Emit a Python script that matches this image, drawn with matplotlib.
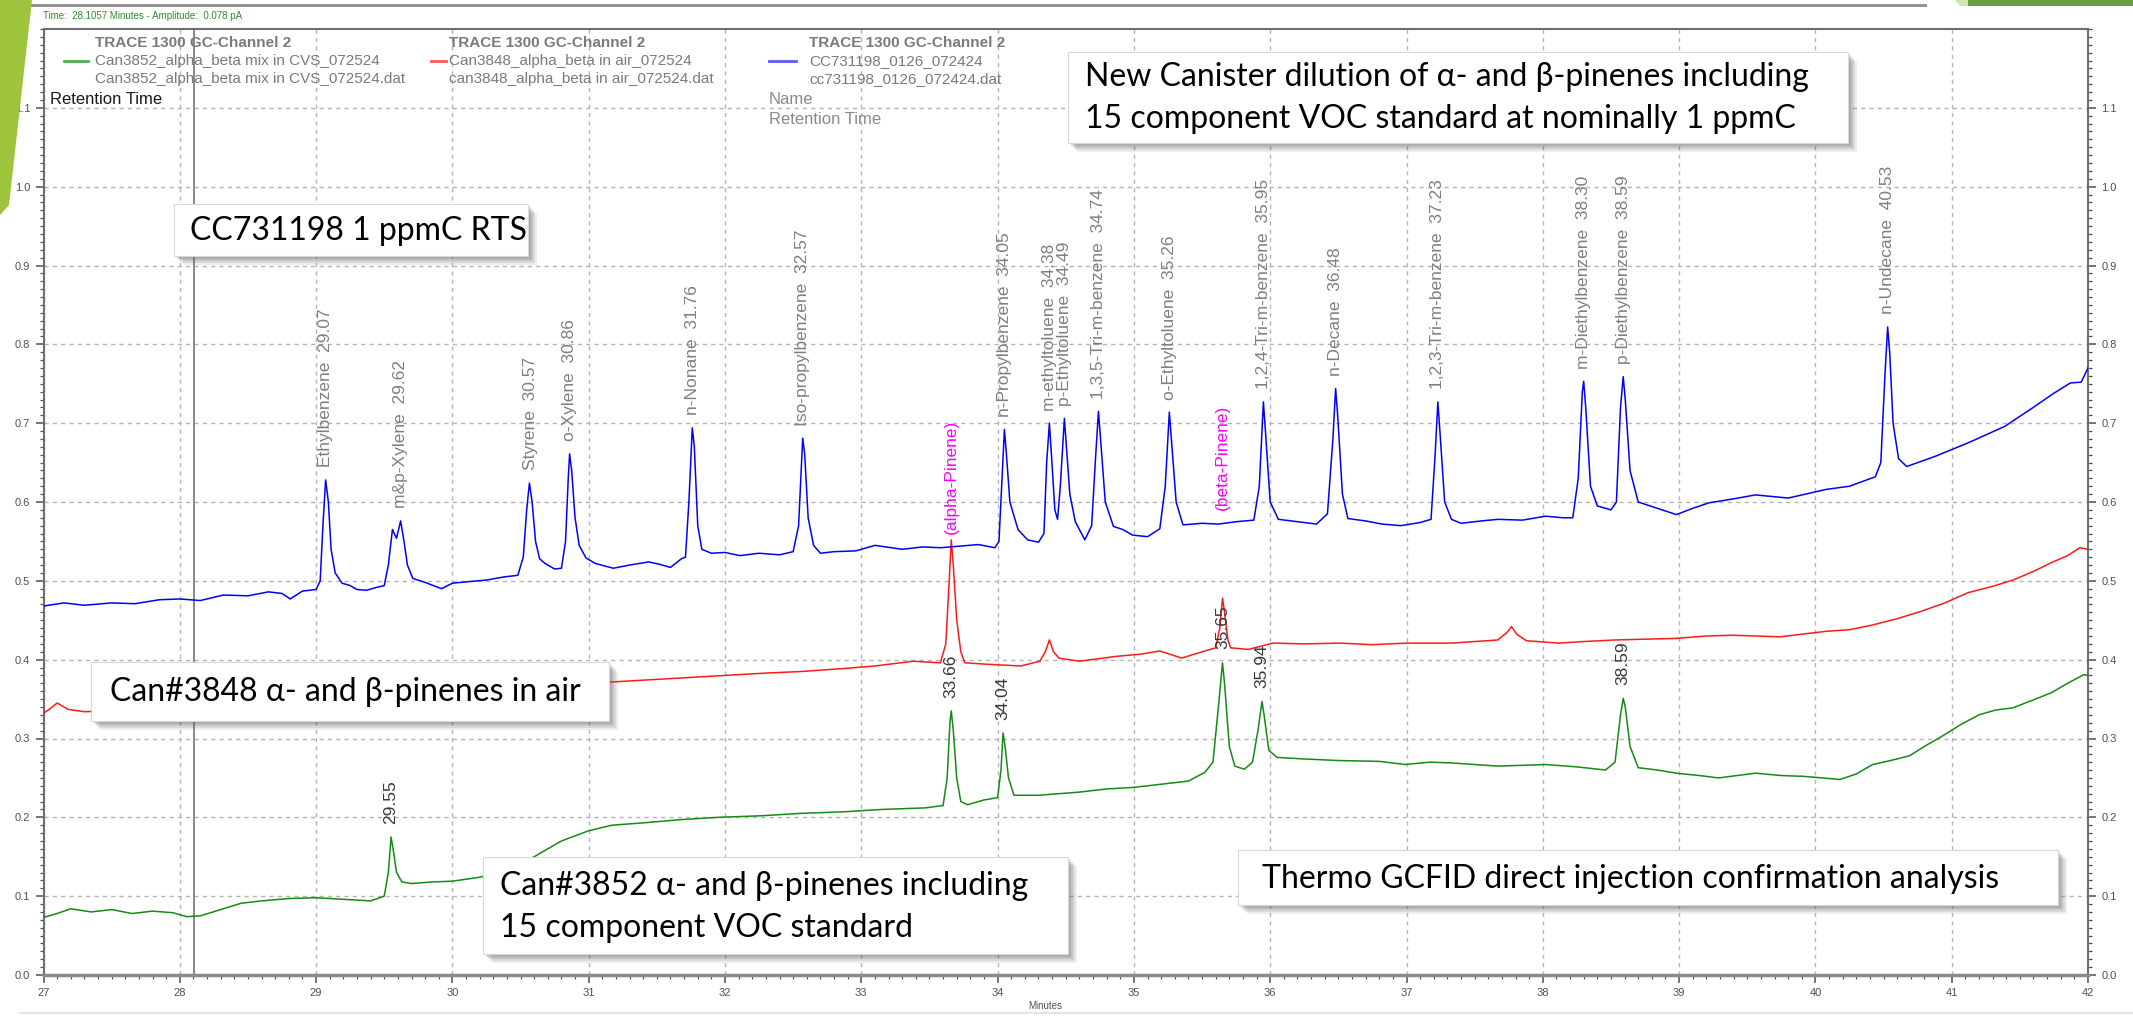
"""GC-FID chromatogram overlay (TRACE 1300, channel 2) redrawn as a slide figure."""

import matplotlib
matplotlib.use("Agg")
import matplotlib.pyplot as plt
from matplotlib import font_manager as fm
from matplotlib.patches import Rectangle, Polygon
from matplotlib.ticker import MultipleLocator, FixedLocator, FormatStrFormatter

W, H = 2133, 1017

# ---- traces: (minutes, pA) ----
blue_trace = [
    (27.00, 0.468), (27.15, 0.472), (27.30, 0.469), (27.50, 0.472), (27.67, 0.471),
    (27.85, 0.476), (28.00, 0.477), (28.15, 0.475), (28.32, 0.482), (28.50, 0.481),
    (28.65, 0.486), (28.75, 0.484), (28.81, 0.477), (28.90, 0.487), (29.00, 0.489),
    (29.03, 0.500), (29.05, 0.570), (29.07, 0.628), (29.09, 0.600), (29.11, 0.540),
    (29.14, 0.510), (29.19, 0.497), (29.25, 0.494), (29.30, 0.489), (29.37, 0.488),
    (29.45, 0.492), (29.50, 0.494), (29.53, 0.520), (29.56, 0.565), (29.59, 0.554),
    (29.62, 0.576), (29.645, 0.550), (29.67, 0.520), (29.71, 0.503), (29.80, 0.498),
    (29.92, 0.490), (30.00, 0.497), (30.12, 0.499), (30.25, 0.501), (30.38, 0.505),
    (30.48, 0.507), (30.52, 0.530), (30.545, 0.590), (30.565, 0.624), (30.585, 0.600),
    (30.61, 0.550), (30.64, 0.528), (30.68, 0.522), (30.75, 0.515), (30.80, 0.516),
    (30.83, 0.550), (30.85, 0.630), (30.86, 0.661), (30.875, 0.640), (30.90, 0.580),
    (30.93, 0.545), (30.98, 0.529), (31.05, 0.522), (31.18, 0.516), (31.30, 0.520),
    (31.44, 0.524), (31.52, 0.521), (31.60, 0.517), (31.68, 0.528), (31.71, 0.530),
    (31.735, 0.600), (31.76, 0.694), (31.775, 0.670), (31.80, 0.570), (31.83, 0.540),
    (31.90, 0.535), (32.00, 0.536), (32.11, 0.532), (32.25, 0.535), (32.40, 0.533),
    (32.50, 0.537), (32.54, 0.570), (32.57, 0.681), (32.585, 0.660), (32.61, 0.580),
    (32.65, 0.545), (32.70, 0.535), (32.80, 0.537), (32.96, 0.538), (33.10, 0.545),
    (33.30, 0.540), (33.45, 0.543), (33.58, 0.542), (33.72, 0.544), (33.86, 0.546),
    (33.98, 0.542), (34.01, 0.550), (34.03, 0.620), (34.05, 0.692), (34.065, 0.660),
    (34.09, 0.600), (34.15, 0.565), (34.22, 0.552), (34.30, 0.549), (34.34, 0.560),
    (34.36, 0.650), (34.38, 0.700), (34.395, 0.660), (34.42, 0.590), (34.44, 0.578),
    (34.46, 0.620), (34.49, 0.706), (34.505, 0.670), (34.53, 0.610), (34.57, 0.575),
    (34.64, 0.552), (34.69, 0.570), (34.72, 0.660), (34.74, 0.715), (34.755, 0.680),
    (34.79, 0.600), (34.85, 0.569), (34.92, 0.565), (34.99, 0.558), (35.10, 0.556),
    (35.19, 0.566), (35.23, 0.620), (35.26, 0.714), (35.275, 0.680), (35.31, 0.600),
    (35.36, 0.571), (35.50, 0.573), (35.62, 0.572), (35.75, 0.575), (35.88, 0.577),
    (35.92, 0.620), (35.95, 0.727), (35.965, 0.690), (36.00, 0.600), (36.06, 0.578),
    (36.20, 0.575), (36.34, 0.572), (36.42, 0.585), (36.46, 0.680), (36.48, 0.744),
    (36.495, 0.710), (36.53, 0.610), (36.57, 0.579), (36.70, 0.576), (36.82, 0.572),
    (36.96, 0.570), (37.10, 0.574), (37.18, 0.578), (37.21, 0.660), (37.23, 0.727),
    (37.245, 0.690), (37.28, 0.600), (37.33, 0.578), (37.40, 0.573), (37.55, 0.576),
    (37.67, 0.578), (37.85, 0.577), (38.02, 0.582), (38.15, 0.580), (38.22, 0.580),
    (38.26, 0.630), (38.29, 0.740), (38.30, 0.753), (38.315, 0.720), (38.35, 0.620),
    (38.40, 0.595), (38.50, 0.590), (38.54, 0.600), (38.57, 0.720), (38.59, 0.759),
    (38.605, 0.730), (38.64, 0.640), (38.70, 0.600), (38.84, 0.592), (38.98, 0.584),
    (39.10, 0.592), (39.22, 0.599), (39.40, 0.604), (39.56, 0.609), (39.80, 0.605),
    (40.08, 0.616), (40.25, 0.620), (40.44, 0.632), (40.48, 0.650), (40.51, 0.760),
    (40.53, 0.822), (40.545, 0.790), (40.57, 0.700), (40.61, 0.655), (40.67, 0.645),
    (40.88, 0.658), (41.12, 0.675), (41.39, 0.696), (41.59, 0.719), (41.75, 0.738),
    (41.87, 0.751), (41.95, 0.752), (42.00, 0.770),
]

red_trace = [
    (27.00, 0.332), (27.05, 0.338), (27.10, 0.345), (27.18, 0.337), (27.30, 0.334),
    (27.50, 0.335), (28.00, 0.340), (28.50, 0.348), (29.00, 0.352), (29.50, 0.356),
    (30.00, 0.360), (30.50, 0.365), (31.00, 0.370), (31.20, 0.372), (31.50, 0.375),
    (31.80, 0.378), (32.10, 0.381), (32.30, 0.383), (32.56, 0.385), (32.89, 0.389),
    (33.10, 0.392), (33.38, 0.398), (33.58, 0.396), (33.62, 0.420), (33.645, 0.500),
    (33.66, 0.552), (33.675, 0.520), (33.70, 0.450), (33.73, 0.410), (33.76, 0.396),
    (33.94, 0.394), (34.17, 0.392), (34.31, 0.398), (34.35, 0.410), (34.38, 0.425),
    (34.41, 0.410), (34.45, 0.402), (34.60, 0.398), (34.86, 0.404), (35.05, 0.407),
    (35.19, 0.411), (35.35, 0.402), (35.52, 0.411), (35.60, 0.415), (35.63, 0.440),
    (35.65, 0.478), (35.665, 0.460), (35.69, 0.425), (35.71, 0.415), (35.84, 0.413),
    (36.02, 0.421), (36.25, 0.420), (36.51, 0.421), (36.75, 0.419), (37.00, 0.421),
    (37.33, 0.421), (37.67, 0.425), (37.74, 0.435), (37.77, 0.442), (37.81, 0.432),
    (37.88, 0.424), (38.12, 0.421), (38.30, 0.423), (38.53, 0.425), (38.75, 0.426),
    (38.98, 0.427), (39.20, 0.430), (39.39, 0.431), (39.74, 0.429), (40.08, 0.436),
    (40.25, 0.438), (40.42, 0.444), (40.60, 0.452), (40.77, 0.461), (40.95, 0.472),
    (41.12, 0.485), (41.30, 0.493), (41.45, 0.501), (41.60, 0.512), (41.73, 0.523),
    (41.85, 0.532), (41.94, 0.542), (42.00, 0.540),
]

green_trace = [
    (27.00, 0.073), (27.10, 0.078), (27.20, 0.084), (27.35, 0.080), (27.50, 0.083),
    (27.65, 0.078), (27.80, 0.081), (27.95, 0.079), (28.05, 0.074), (28.15, 0.075),
    (28.30, 0.083), (28.45, 0.091), (28.60, 0.094), (28.80, 0.097), (29.00, 0.098),
    (29.20, 0.096), (29.40, 0.094), (29.50, 0.100), (29.53, 0.130), (29.55, 0.175),
    (29.565, 0.160), (29.59, 0.130), (29.63, 0.118), (29.70, 0.116), (29.85, 0.118),
    (30.00, 0.119), (30.20, 0.124), (30.35, 0.130), (30.60, 0.150), (30.80, 0.170),
    (31.00, 0.183), (31.17, 0.190), (31.40, 0.193), (31.67, 0.197), (31.95, 0.200),
    (32.27, 0.202), (32.55, 0.205), (32.87, 0.207), (33.15, 0.210), (33.47, 0.212),
    (33.60, 0.215), (33.63, 0.250), (33.65, 0.320), (33.66, 0.335), (33.675, 0.310),
    (33.70, 0.250), (33.73, 0.220), (33.78, 0.216), (33.90, 0.222), (34.00, 0.225),
    (34.025, 0.260), (34.04, 0.307), (34.055, 0.290), (34.08, 0.250), (34.12, 0.228),
    (34.30, 0.228), (34.60, 0.232), (34.80, 0.236), (35.00, 0.238), (35.20, 0.242),
    (35.40, 0.246), (35.52, 0.257), (35.58, 0.270), (35.62, 0.340), (35.65, 0.396),
    (35.665, 0.370), (35.70, 0.290), (35.74, 0.265), (35.81, 0.261), (35.87, 0.270),
    (35.91, 0.310), (35.94, 0.347), (35.955, 0.330), (35.99, 0.285), (36.05, 0.276),
    (36.25, 0.274), (36.51, 0.272), (36.80, 0.271), (36.99, 0.267), (37.17, 0.270),
    (37.33, 0.269), (37.50, 0.267), (37.67, 0.265), (37.85, 0.266), (38.02, 0.267),
    (38.25, 0.264), (38.46, 0.260), (38.53, 0.270), (38.57, 0.330), (38.59, 0.351),
    (38.605, 0.340), (38.64, 0.290), (38.70, 0.263), (38.84, 0.260), (38.98, 0.256),
    (39.15, 0.253), (39.29, 0.250), (39.56, 0.256), (39.75, 0.253), (39.91, 0.252),
    (40.05, 0.250), (40.18, 0.248), (40.30, 0.255), (40.42, 0.267), (40.55, 0.272),
    (40.69, 0.278), (40.80, 0.290), (40.93, 0.303), (41.07, 0.318), (41.20, 0.330),
    (41.32, 0.336), (41.45, 0.339), (41.60, 0.349), (41.73, 0.358), (41.85, 0.370),
    (41.97, 0.381), (42.00, 0.380),
]

# ---- peak annotations ----
blue_names = ["Ethylbenzene", "m&p-Xylene", "Styrene", "o-Xylene", "n-Nonane",
              "Iso-propylbenzene", "n-Propylbenzene", "m-ethyltoluene", "p-Ethyltoluene",
              "1,3,5-Tri-m-benzene", "o-Ethyltoluene", "1,2,4-Tri-m-benzene", "n-Decane",
              "1,2,3-Tri-m-benzene", "m-Diethylbenzene", "p-Diethylbenzene", "n-Undecane"]
blue_rts = [29.07, 29.62, 30.57, 30.86, 31.76, 32.57, 34.05, 34.38, 34.49, 34.74,
            35.26, 35.95, 36.48, 37.23, 38.30, 38.59, 40.53]
blue_apex = [0.628, 0.576, 0.624, 0.661, 0.694, 0.681, 0.692, 0.700, 0.706, 0.715,
             0.714, 0.727, 0.744, 0.727, 0.753, 0.759, 0.822]

green_rts = [29.55, 33.66, 34.04, 35.65, 35.94, 38.59]
green_apex = [0.175, 0.335, 0.307, 0.396, 0.347, 0.351]

pinene_names = ["(alpha-Pinene)", "(beta-Pinene)"]
pinene_rts = [33.66, 35.65]
pinene_label_y = [0.559, 0.590]

legend_cols = [
    ("Can3852_alpha_beta mix in CVS_072524", "Can3852_alpha_beta mix in CVS_072524.dat"),
    ("Can3848_alpha_beta in air_072524", "can3848_alpha_beta in air_072524.dat"),
    ("CC731198_0126_072424", "cc731198_0126_072424.dat"),
]

cursor_time = 28.1057


def has_font(name):
    try:
        fm.findfont(fm.FontProperties(family=name), fallback_to_default=False)
        return True
    except ValueError:
        return False


base_font = "Liberation Sans"
box_font = "Liberation Sans Narrow" if has_font("Liberation Sans Narrow") else "Lato"
plt.rcParams["font.family"] = [base_font, "DejaVu Sans"]


def fx(px):
    return px / W


def fy(py):
    return 1 - py / H


def text_box(fig, x0, y0, x1, y1, lines, size):
    # PowerPoint-style white call-out with a soft drop shadow (pixel coords, top-left origin)
    for off, a in [(9, 0.10), (7, 0.14), (5, 0.18), (3, 0.22)]:
        fig.add_artist(Rectangle((fx(x0 + off), fy(y1 + off)), fx(x1 - x0), (y1 - y0) / H,
                                 transform=fig.transFigure, facecolor="#606060",
                                 edgecolor="none", alpha=a, zorder=8))
    fig.add_artist(Rectangle((fx(x0), fy(y1)), fx(x1 - x0), (y1 - y0) / H,
                             transform=fig.transFigure, facecolor="white",
                             edgecolor="#d8d8d8", linewidth=0.8, zorder=9))
    for tx, ty, s in lines:
        fig.text(fx(tx), fy(ty), s, fontsize=size, family=[box_font, "DejaVu Sans"],
                 color="black", ha="left", va="center", zorder=10)


fig = plt.figure(figsize=(W / 100, H / 100), dpi=100)
fig.patch.set_facecolor("white")

ax = fig.add_axes([fx(43.5), fy(975), fx(2088 - 43.5), (975 - 29) / H])
ax.set_facecolor("white")

for trace, col in [(green_trace, "#168a16"), (red_trace, "#ff1a1a"), (blue_trace, "#0000ff")]:
    t, y = zip(*trace)
    ax.plot(t, y, color=col, linewidth=1.1, zorder=3)

ax.axvline(cursor_time, color="#808080", linewidth=1.3, zorder=2)

lab_kw = dict(rotation=90, ha="center", va="bottom", fontsize=12.5, zorder=4)
for name, rt, ap in zip(blue_names, blue_rts, blue_apex):
    ax.text(rt, ap + 0.016, f"{name}  {rt:.2f}", color="#7f7f7f", **lab_kw)
for rt, ap in zip(green_rts, green_apex):
    ax.text(rt, ap + 0.017, f"{rt:.2f}", color="#383838", **lab_kw)
for name, rt, ly in zip(pinene_names, pinene_rts, pinene_label_y):
    ax.text(rt, ly, name, color="#ff00ff", **lab_kw)

ax.set_xlim(27, 42)
ax.set_ylim(0, 1.2)
ax.xaxis.set_major_locator(MultipleLocator(1))
ax.xaxis.set_minor_locator(MultipleLocator(0.1))
ax.yaxis.set_major_locator(FixedLocator([i / 10 for i in range(12)]))
ax.yaxis.set_minor_locator(MultipleLocator(0.01))
ax.yaxis.set_major_formatter(FormatStrFormatter("%.1f"))
ax.tick_params(which="both", direction="out", colors="#505050", labelsize=8,
               left=True, right=True, labelright=True, top=False)
ax.tick_params(which="major", length=6, width=1.1)
ax.tick_params(which="minor", length=3, width=0.9)
ax.grid(True, which="major", color="#b4b4b4", linestyle=(0, (3, 3)), linewidth=1, zorder=1)
for side in ["left", "right", "top"]:
    ax.spines[side].set_color("#6e6e6e")
    ax.spines[side].set_linewidth(1.5)
ax.spines["bottom"].set_color("#8a8a8a")
ax.spines["bottom"].set_linewidth(2.5)

# ---- legend block (top of the plot area) ----
leg_x = [95, 449, 809]
mark_x = [(64, 88), (431, 446), (769, 796)]
mark_col = ["#4caf50", "#ff5a5a", "#5a5aff"]
for (name, fname), lx, (m0, m1), mc in zip(legend_cols, leg_x, mark_x, mark_col):
    fig.text(fx(lx), fy(43), "TRACE 1300 GC-Channel 2", fontsize=11, color="#7a7a7a",
             ha="left", va="center", fontweight="bold")
    fig.text(fx(lx), fy(61), name, fontsize=11, color="#7a7a7a", ha="left", va="center")
    fig.text(fx(lx), fy(79), fname, fontsize=11, color="#7a7a7a", ha="left", va="center")
    fig.add_artist(plt.Line2D([fx(m0), fx(m1)], [fy(61), fy(61)], color=mc, linewidth=2,
                              transform=fig.transFigure))
fig.text(fx(50), fy(99), "Retention Time", fontsize=12, color="#1a1a1a", ha="left", va="center")
fig.text(fx(769), fy(99), "Name", fontsize=12, color="#8a8a8a", ha="left", va="center")
fig.text(fx(769), fy(120), "Retention Time", fontsize=12, color="#8a8a8a", ha="left", va="center")

fig.text(fx(43), fy(16), "Time:  28.1057 Minutes - Amplitude:  0.078 pA", fontsize=7,
         color="#2f8f2f", ha="left", va="center")
fig.text(fx(1045), fy(1006), "Minutes", fontsize=7, color="#505050", ha="center", va="center")

# ---- slide chrome ----
fig.add_artist(plt.Line2D([fx(25), fx(1925)], [fy(5), fy(5)], color="#8c8c8c", linewidth=2,
                          transform=fig.transFigure))
fig.add_artist(plt.Line2D([fx(20), fx(2133)], [fy(1013), fy(1013)], color="#e4e4e4",
                          linewidth=1.5, transform=fig.transFigure))
fig.add_artist(Rectangle((fx(1968), fy(6)), fx(2133 - 1968), 6 / H, transform=fig.transFigure,
                         facecolor="#6a9a48", edgecolor="none", zorder=6))
fig.add_artist(Polygon([(fx(1955), fy(0)), (fx(1968), fy(0)), (fx(1968), fy(6)), (fx(1960), fy(6))],
                       closed=True, transform=fig.transFigure, facecolor="#cfe6b0",
                       edgecolor="none", zorder=6))
fig.add_artist(Polygon([(fx(0), fy(0)), (fx(32), fy(0)), (fx(9), fy(205)), (fx(0), fy(215))],
                       closed=True, transform=fig.transFigure, facecolor="#9dc43c",
                       edgecolor="none", zorder=6))

# ---- call-out boxes ----
text_box(fig, 1068, 52, 1848, 143,
         [(1085, 77, "New Canister dilution of α- and β-pinenes including"),
          (1085, 119, "15 component VOC standard at nominally 1 ppmC")], 23)
text_box(fig, 174, 204, 528, 256, [(190, 231, "CC731198 1 ppmC RTS")], 23)
text_box(fig, 91, 662, 609, 721, [(110, 692, "Can#3848 α- and β-pinenes in air")], 23)
text_box(fig, 483, 857, 1068, 954,
         [(500, 886, "Can#3852 α- and β-pinenes including"),
          (500, 928, "15 component VOC standard")], 23)
text_box(fig, 1238, 850, 2058, 905,
         [(1262, 879, "Thermo GCFID direct injection confirmation analysis")], 23)

fig.savefig("out.png", dpi=100, facecolor="white")
